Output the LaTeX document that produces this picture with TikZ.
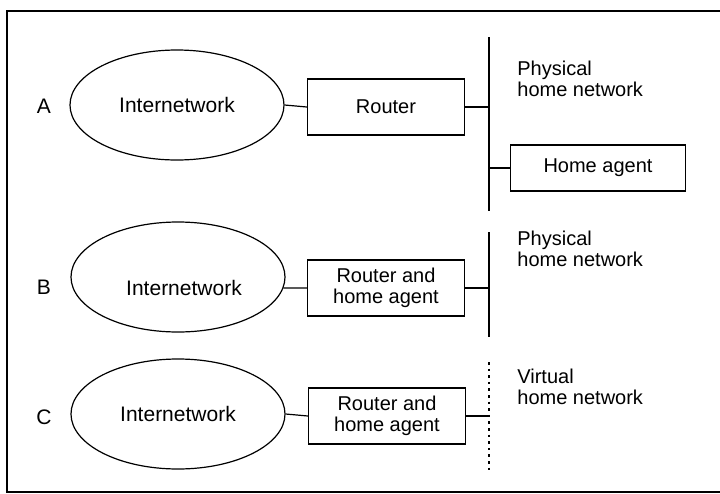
\documentclass[tikz,border=0pt]{standalone}
\usepackage{fontspec}
\setmainfont{Liberation Sans}
\usetikzlibrary{positioning, shapes.geometric}

\begin{document}
\begin{tikzpicture}[x=0.5pt, y=-0.5pt, font=\fontsize{10}{10.5}\selectfont,
		net/.style={draw, ellipse, line width=0.6pt, minimum width=107pt, minimum height=55pt, inner sep=0pt, font=\fontsize{10.5}{11}\selectfont},
		box/.style={draw, rectangle, line width=0.6pt, minimum width=78.5pt, minimum height=28pt, align=center, inner sep=1pt},
		bus/.style={line width=1.4pt},
		vbus/.style={line width=1.3pt, dotted},
		link/.style={line width=0.6pt},
		tag/.style={font=\fontsize{10.5}{11}\selectfont},
		note/.style={anchor=north west, align=left, inner sep=0pt}]
		\useasboundingbox (0,0) rectangle (720,494);
		\draw[line width=0.7pt] (720,11) -- (7,11) -- (7,492) -- (720,492);

		% case A
		\node[tag] (A) at (44,106) {A};
		\node[net] (netA) at (177,105) {Internetwork};
		\node[box] (rtrA) at (386,107) {Router};
		\coordinate (busAtop) at (489,37);
		\coordinate (busAbot) at (489,211);
		\node[box, minimum width=87.5pt, minimum height=23pt] (haA) at (598,168) {Home agent};
		\node[note] (physA) at (517,61) {Physical\\home network};

		% case B
		\node[tag] (B) at (44,287) {B};
		\node[net] (netB) at (178,277) {};
		\node[font=\fontsize{10.5}{11}\selectfont] (netBtxt) at (184,288) {Internetwork};
		\node[box] (rtrB) at (386,288) {Router and\\home agent};
		\coordinate (busBtop) at (489,232);
		\coordinate (busBbot) at (489,337);
		\node[note] (physB) at (517,231) {Physical\\home network};

		% case C
		\node[tag] (C) at (44,417) {C};
		\node[net] (netC) at (178,414) {Internetwork};
		\node[box] (rtrC) at (387,416) {Router and\\home agent};
		\coordinate (busCtop) at (489,362);
		\coordinate (busCbot) at (489,473);
		\node[note] (virtC) at (517,369) {Virtual\\home network};

		\draw[link] (netA.east) -- (rtrA.west);
		\draw[link] (rtrA.east) -- (rtrA.east -| busAtop);
		\draw[bus] (busAtop) -- (busAbot);
		\draw[link] (haA.west -| busAtop) -- (haA.west);

		\draw[link] (netB.-6) -- (rtrB.west);
		\draw[link] (rtrB.east) -- (rtrB.east -| busBtop);
		\draw[bus] (busBtop) -- (busBbot);

		\draw[link] (netC.east) -- (rtrC.west);
		\draw[link] (rtrC.east) -- (rtrC.east -| busCtop);
		\draw[vbus] (busCtop) -- (busCbot);
	\end{tikzpicture}
\end{document}
